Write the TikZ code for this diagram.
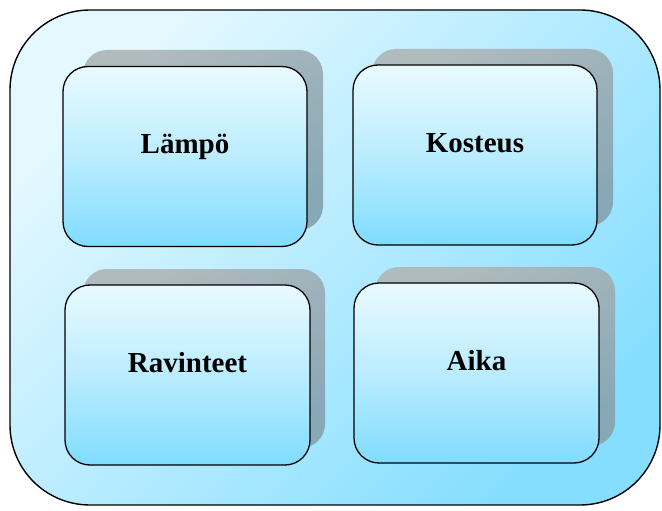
\documentclass[tikz,border=0pt]{standalone}
\usepackage{fontspec}
\setmainfont{Liberation Serif}
\definecolor{outerA}{HTML}{E4F8FF}
\definecolor{outerB}{HTML}{86DEFF}
\definecolor{boxA}{HTML}{EAFAFF}
\definecolor{boxB}{HTML}{80DCFF}
\definecolor{shadA}{HTML}{B0BBBE}
\definecolor{shadB}{HTML}{88A8B6}
\tikzset{
  outerbox/.style={draw=black, line width=1.4pt, rounded corners=80pt,
    top color=outerA, bottom color=outerB, shading angle=45,
    minimum width=650pt, minimum height=495pt, inner sep=0pt},
  shadowbox/.style={rounded corners=24pt, top color=shadA, bottom color=shadB, shading angle=30},
  itembox/.style={draw=black, line width=1.3pt, rounded corners=25pt,
    top color=boxA, bottom color=boxB, middle color=boxA!55!boxB,
    minimum width=244pt, minimum height=180pt, inner sep=0pt,
    font=\fontsize{29}{34}\selectfont\bfseries,
    text height=22pt, text depth=28pt}
}
\begin{document}
\begin{tikzpicture}[x=1pt,y=-1pt]
\useasboundingbox (0,0) rectangle (662,511);
\node[outerbox] (outer) at (335,257.5) {};
% shadows
\shade[shadowbox] (83,50) rectangle (323,230);
\shade[shadowbox] (372,49) rectangle (613,226);
\shade[shadowbox] (83,269) rectangle (325,448);
\shade[shadowbox] (375,267) rectangle (615,446);
% boxes
\node[itembox] (b1) at (185,156.5) {Lämpö};
\node[itembox] (b2) at (475,155) {Kosteus};
\node[itembox, minimum width=245pt] (b3) at (187.5,375) {Ravinteet};
\node[itembox, minimum width=245pt] (b4) at (476.5,373) {Aika};
\end{tikzpicture}
\end{document}
